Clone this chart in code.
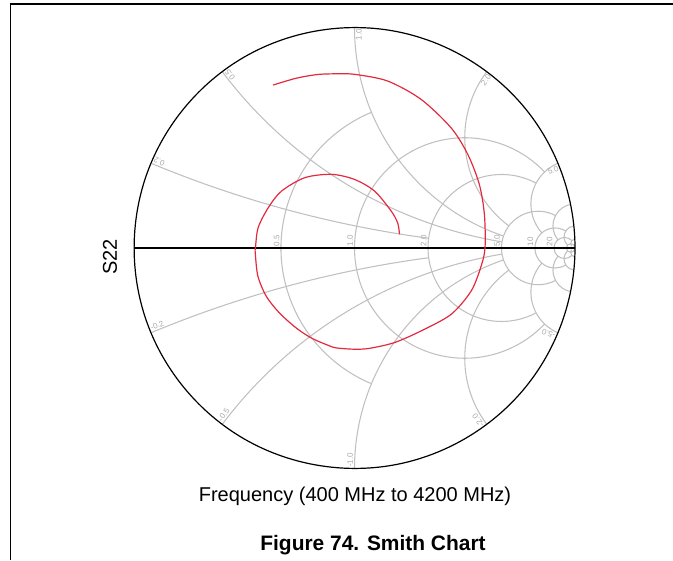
\documentclass[border=0pt]{standalone}
\usepackage{pgfplots}
\pgfplotsset{compat=1.18}
\usepgfplotslibrary{smithchart}
\usepackage{fontspec}
\setmainfont{Liberation Sans}
\definecolor{curve}{RGB}{226,42,62}
\definecolor{gridc}{RGB}{192,192,192}
\definecolor{labc}{RGB}{170,170,170}
% grid helpers (chart grid only, in reflection-coefficient units)
\newcommand{\Rcirc}[2]{%
  \pgfmathsetmacro{\gC}{#1/(#1+1)}%
  \pgfmathsetmacro{\gR}{1/(#1+1)}%
  \pgfmathsetmacro{\gD}{(#1+1)*(#1+1)+#2*#2}%
  \pgfmathsetmacro{\gX}{(#1*#1-1+#2*#2)/\gD}%
  \pgfmathsetmacro{\gY}{2*#2/\gD}%
  \pgfmathsetmacro{\gP}{atan2(\gY,\gX-\gC)}%
  \pgfmathsetmacro{\gQ}{360-\gP}%
  \draw (\gX,\gY) arc[start angle=\gP, end angle=\gQ, radius=\gR];%
}
\newcommand{\Rfull}[1]{%
  \pgfmathsetmacro{\gC}{#1/(#1+1)}%
  \pgfmathsetmacro{\gR}{1/(#1+1)}%
  \draw (\gC,0) circle[radius=\gR];%
}
\newcommand{\Xarc}[2]{%
  \pgfmathsetmacro{\gR}{1/#1}%
  \pgfmathsetmacro{\gSx}{(#1*#1-1)/(#1*#1+1)}%
  \pgfmathsetmacro{\gSy}{2*#1/(#1*#1+1)}%
  \pgfmathsetmacro{\gA}{atan2(\gSy-\gR,\gSx-1)}%
  \pgfmathsetmacro{\gA}{\gA<0 ? \gA+360 : \gA}%
  \pgfmathsetmacro{\gD}{(#2+1)*(#2+1)+#1*#1}%
  \pgfmathsetmacro{\gEx}{(#2*#2-1+#1*#1)/\gD}%
  \pgfmathsetmacro{\gEy}{2*#1/\gD}%
  \pgfmathsetmacro{\gB}{atan2(\gEy-\gR,\gEx-1)}%
  \pgfmathsetmacro{\gB}{\gB<0 ? \gB+360 : \gB}%
  \pgfmathsetmacro{\gAm}{-\gA}%
  \pgfmathsetmacro{\gBm}{-\gB}%
  \draw (\gSx,\gSy) arc[start angle=\gA, end angle=\gB, radius=\gR];%
  \draw (\gSx,-\gSy) arc[start angle=\gAm, end angle=\gBm, radius=\gR];%
}
\begin{document}
\begin{tikzpicture}
\path[use as bounding box] (0pt,0pt) rectangle (504.75pt,420pt);
\draw[black, line width=1pt] (504.75pt,417pt) -- (7.875pt,417pt) -- (7.875pt,0pt);
\begin{scope}[shift={(265.875pt,234pt)}, x=165.375pt, y=165.375pt, draw=gridc, line width=0.8pt]
  \Rcirc{0.5}{1}
  \Rcirc{1}{5}
  \Rcirc{2}{5}
  \Rcirc{5}{10}
  \Rcirc{10}{20}
  \Rcirc{20}{50}
  \Rfull{50}
  \Xarc{0.2}{2}
  \Xarc{0.5}{5}
  \Xarc{1}{5}
  \Xarc{2}{5}
  \Xarc{5}{10}
  \Xarc{10}{20}
  \Xarc{20}{50}
  \Xarc{50}{100}
\end{scope}
\begin{smithchart}[
  at={(265.875pt,234pt)}, anchor=center,
  scale only axis, width=330.75pt, height=330.75pt,
  xtick={0.5,1,2,5,10,20,50},
  xticklabels={0.5,1.0,2.0,5.0,10,20,},
  ytick={-50,-20,-10,-5,-2,-1,-0.5,-0.2,0.2,0.5,1,2,5,10,20,50},
  yticklabels={,,,-5.0,-2.0,-1.0,-0.5,-0.2,0.2,0.5,1.0,2.0,5.0,,,},
  minor xtick={}, minor ytick={},
  yticklabel in circle,
  grid=none,
  major tick length=0pt,
  axis line style={black, line width=0.9pt},
  xticklabel style={font=\fontsize{6}{7}\selectfont, text=labc, rotate=90, anchor=south west, inner sep=1pt},
  yticklabel style={font=\fontsize{6}{7}\selectfont, text=labc, inner sep=1pt},
]
\addplot[is smithchart cs, black, line width=0.9pt] coordinates {(-1,0) (1,0)};
\addplot[is smithchart cs, curve, line width=0.9pt, smooth] coordinates {
(-0.369,0.739) (-0.264,0.770) (-0.165,0.787) (-0.068,0.790) (0.005,0.787)
(0.151,0.757) (0.302,0.674) (0.438,0.545) (0.514,0.424) (0.566,0.289)
(0.589,0.153) (0.592,0.002) (0.574,-0.083) (0.529,-0.195) (0.438,-0.301)
(0.302,-0.376) (0.181,-0.429) (0.068,-0.455) (0.000,-0.459) (-0.083,-0.453)
(-0.128,-0.438) (-0.196,-0.408) (-0.264,-0.363) (-0.340,-0.295) (-0.400,-0.219)
(-0.438,-0.128) (-0.450,-0.023) (-0.449,0.002) (-0.437,0.092) (-0.391,0.183)
(-0.331,0.258) (-0.225,0.319) (-0.104,0.334) (0.000,0.311) (0.091,0.258)
(0.166,0.168) (0.196,0.113) (0.204,0.062)
};
\end{smithchart}
\node[rotate=90, font=\fontsize{15}{18}\selectfont] at (82.5pt,227.25pt) {S22};
\node[anchor=base, font=\fontsize{15}{18}\selectfont] at (266.25pt,43.7pt) {Frequency (400 MHz to 4200 MHz)};
\node[anchor=base, font=\fontsize{15.7}{18}\selectfont\bfseries] at (279.75pt,7.5pt) {Figure 74. Smith Chart};
\end{tikzpicture}
\end{document}
